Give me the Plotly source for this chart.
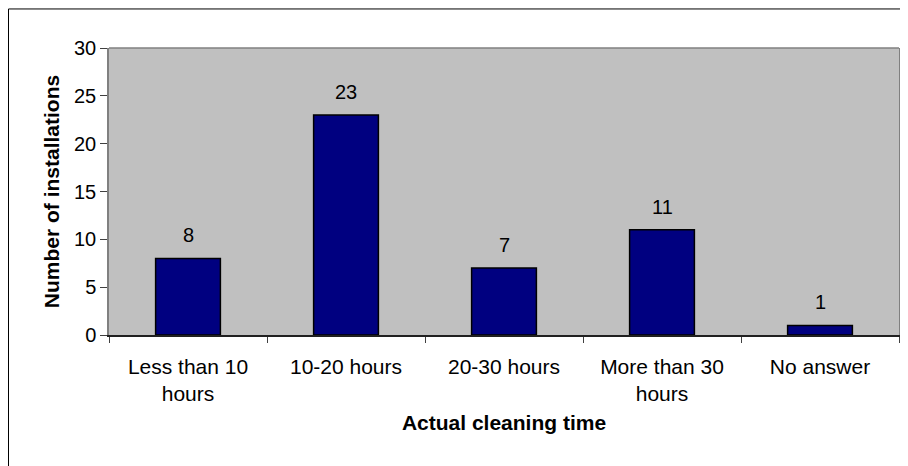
import plotly.graph_objects as go

# cleaning time survey
categories = ["Less than 10<br>hours", "10-20 hours", "20-30 hours", "More than 30<br>hours", "No answer"]
installations = [8, 23, 7, 11, 1]

fig = go.Figure()
fig.add_trace(go.Bar(
    x=categories, y=installations,
    marker=dict(color="#000080", line=dict(color="black", width=1.5)),
    width=0.41,
))

# value labels above the bars
for c, v in zip(categories, installations):
    fig.add_annotation(x=c, y=v, text=str(v), showarrow=False, yshift=23,
                       font=dict(size=20, color="black"))

# outer chart frame (top + left, rest is cropped)
fig.add_shape(type="rect", xref="paper", yref="paper",
              x0=-0.1272, x1=1.05, y0=-0.6, y1=1.136,
              line=dict(color="black", width=1))
fig.add_shape(type="line", xref="paper", yref="paper",
              x0=0, x1=1, y0=1, y1=1, line=dict(color="#808080", width=1.5))

fig.update_layout(
    width=908, height=466,
    margin=dict(l=101, r=17, t=40, b=139),
    paper_bgcolor="white",
    plot_bgcolor="#C0C0C0",
    font=dict(family="Arial, Liberation Sans, sans-serif", size=21, color="black"),
    showlegend=False,
    bargap=0.59,
)
fig.update_xaxes(
    automargin=False,
    showline=True, linecolor="#202020", linewidth=1.5,
    ticks="outside", ticklen=6, tickcolor="#404040", tickson="boundaries",
    ticklabelstandoff=12,
    showgrid=False,
    title=dict(text="<b>Actual cleaning time</b>", font=dict(size=21), standoff=11),
)
fig.update_yaxes(
    automargin=False,
    range=[0, 30], dtick=5,
    showline=True, linecolor="#808080", linewidth=1.5, mirror=True,
    ticks="outside", ticklen=7, tickcolor="#404040",
    showgrid=False, zeroline=False,
    tickfont=dict(size=20),
    title=dict(text="<b>Number of installations</b>", font=dict(size=21), standoff=9),
)

fig.write_html("out.html")
